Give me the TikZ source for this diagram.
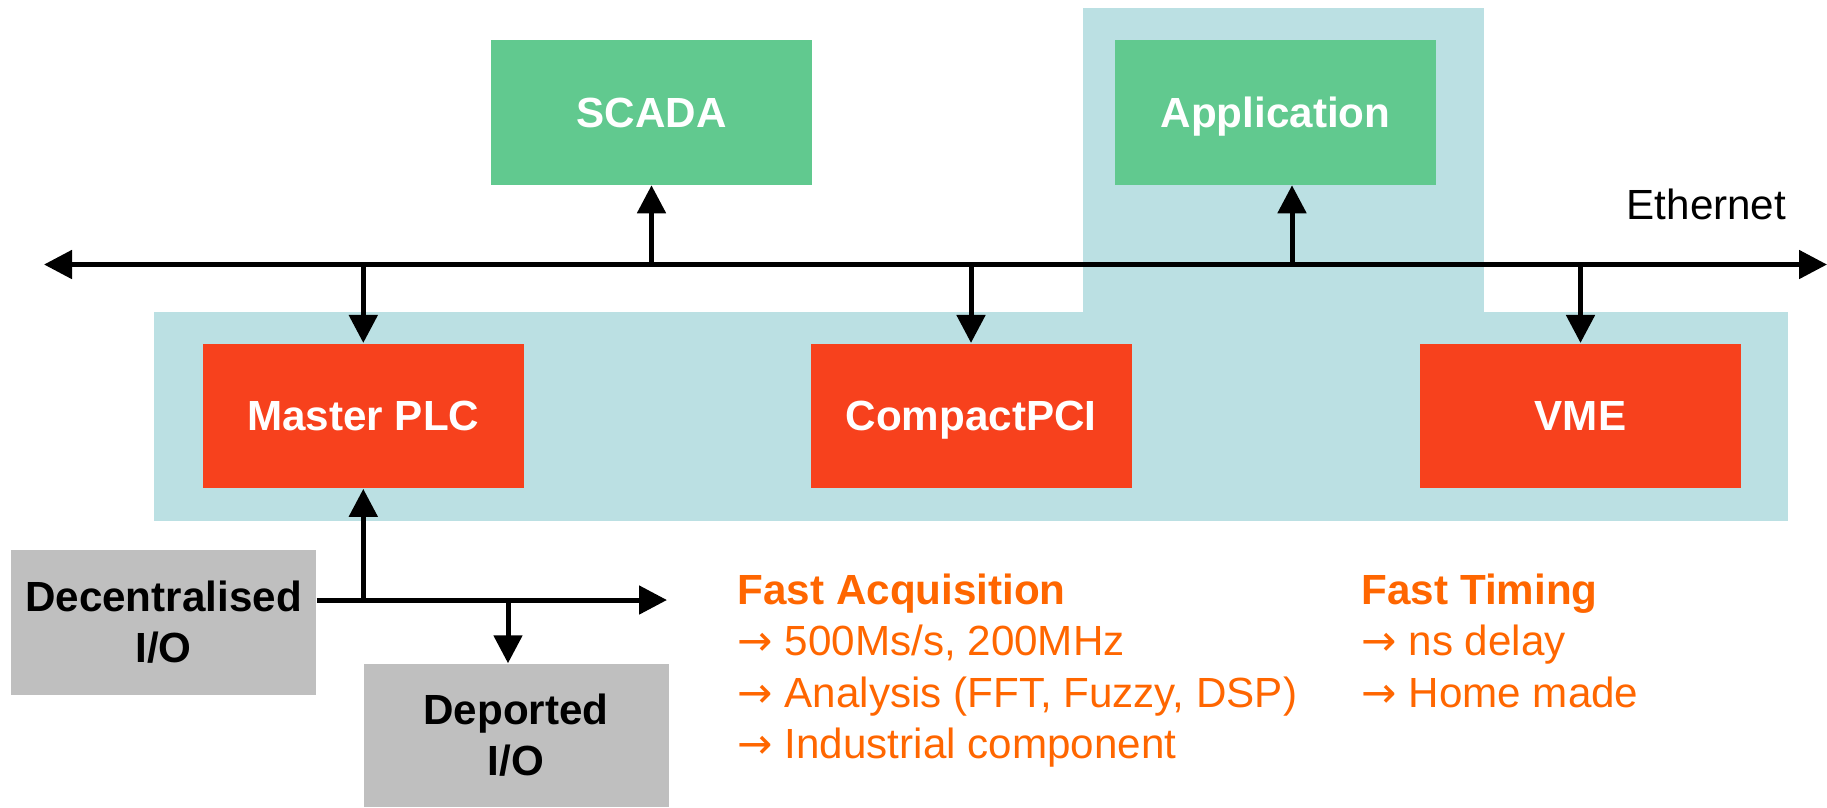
\documentclass[tikz,border=0pt]{standalone}
\usepackage{fontspec}
\setmainfont{Liberation Sans}
\newfontfamily\arrowfont{DejaVu Sans}
\usetikzlibrary{arrows.meta}

\definecolor{boxgreen}{RGB}{97,201,143}
\definecolor{boxred}{RGB}{247,65,29}
\definecolor{boxgrey}{RGB}{191,191,191}
\definecolor{panelblue}{RGB}{187,224,227}
\definecolor{noteorange}{RGB}{255,102,0}

\tikzset{
  unitbox/.style={inner sep=0pt, minimum width=3.21cm, minimum height=1.445cm,
    align=center, font=\fontsize{12}{14.5}\selectfont\bfseries},
  greenbox/.style={unitbox, fill=boxgreen, text=white, text depth=0pt},
  redbox/.style={unitbox, fill=boxred, text=white, text depth=0pt},
  greybox/.style={unitbox, fill=boxgrey, text=black, minimum width=3.05cm},
  link/.style={line width=0.05cm, -{Triangle[length=0.28cm,width=0.28cm]}},
  notes/.style={inner sep=0pt, anchor=north west, align=left, text=noteorange,
    font=\fontsize{12}{14.66}\selectfont}
}

\newcommand{\pt}{{\arrowfont →}~}

\begin{document}
\begin{tikzpicture}[x=1cm,y=1cm]
\useasboundingbox (0,0) rectangle (18.27,-8.07);

% blue panels behind the boxes
\fill[panelblue] (1.54,-3.12) rectangle (17.88,-5.21);
\fill[panelblue] (10.83,-0.076) rectangle (14.84,-3.12);

% upper row
\node[greenbox] (scada) at (6.515,-1.123) {SCADA};
\node[greenbox] (app) at (12.755,-1.123) {Application};

% lower row
\node[redbox] (plc) at (3.633,-4.159) {Master PLC};
\node[redbox] (cpci) at (9.71,-4.159) {CompactPCI};
\node[redbox] (vme) at (15.805,-4.159) {VME};

% I/O boxes
\node[greybox] (decio) at (1.635,-6.223) {Decentralised\\I/O};
\node[greybox, minimum height=1.43cm] (depio) at (5.16,-7.355) {Deported\\I/O};

% ethernet bus
\coordinate (busL) at (0.44,-2.645);
\coordinate (busR) at (18.27,-2.645);
\draw[link, {Triangle[length=0.28cm,width=0.28cm]}-{Triangle[length=0.28cm,width=0.28cm]}] (busL) -- (busR);
\node[anchor=base west, inner sep=0pt, font=\fontsize{12}{14.5}\selectfont] (eth) at (16.26,-2.19) {Ethernet};

\draw[link] (scada.south |- busL) -- (scada.south);
\coordinate (appJ) at (12.92,-2.645);
\draw[link] (appJ) -- (appJ |- app.south);
\draw[link] (plc.north |- busL) -- (plc.north);
\draw[link] (cpci.north |- busL) -- (cpci.north);
\draw[link] (vme.north |- busL) -- (vme.north);

% field bus
\coordinate (brR) at (6.67,-6.0);
\draw[link] (decio.east |- brR) -- (brR);
\draw[link] (plc.south |- brR) -- (plc.south);
\coordinate (depJ) at (5.08,-6.0);
\draw[link] (depJ) -- (depJ |- depio.north);

% notes
\node[notes] (acq) at (7.37,-5.73)
{\textbf{Fast Acquisition}\\
\pt 500Ms/s, 200MHz\\
\pt Analysis (FFT, Fuzzy, DSP)\\
\pt Industrial component};

\node[notes] (timing) at (13.61,-5.73)
{\textbf{Fast Timing}\\
\pt ns delay\\
\pt Home made};
\end{tikzpicture}
\end{document}
